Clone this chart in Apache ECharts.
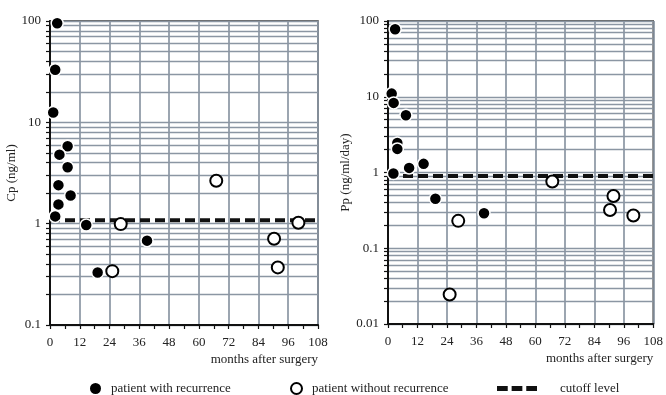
<!DOCTYPE html>
<html>
<head>
<meta charset="utf-8">
<script src="https://cdn.jsdelivr.net/npm/echarts@6/dist/echarts.min.js"></script>
<style>
  html, body { margin: 0; padding: 0; background: #fff; }
  #chart { width: 666px; height: 395px; }
</style>
</head>
<body>
<div id="chart"></div>
<script>
// months after surgery, value
const cpRecurrence = [[2.9, 95], [2.1, 33], [1.3, 12.5], [7.1, 5.8], [3.8, 4.8], [7.1, 3.6], [3.4, 2.4],
  [8.3, 1.9], [3.4, 1.55], [2.1, 1.18], [14.6, 0.97], [19.2, 0.33], [39.1, 0.68]];
const cpNoRecurrence = [[67, 2.65], [25.1, 0.34], [28.5, 0.99], [90.3, 0.71], [91.8, 0.37], [100.1, 1.02]];
const cpCutoff = 1.08;

const ppRecurrence = [[2.9, 78], [1.5, 11], [2.3, 8.3], [7.3, 5.7], [3.8, 2.45], [3.8, 2.05], [2.2, 0.97],
  [8.6, 1.15], [14.5, 1.3], [19.3, 0.45], [39.1, 0.29]];
const ppNoRecurrence = [[66.9, 0.76], [91.8, 0.49], [90.4, 0.32], [99.9, 0.27], [28.6, 0.23], [25.1, 0.0245]];
const ppCutoff = 0.9;

const monthTicks = [0, 108, 12];
const cpTicks = [0.1, 0.2, 0.3, 0.4, 0.5, 0.6, 0.7, 0.8, 0.9, 1, 2, 3, 4, 5, 6, 7, 8, 9,
  10, 20, 30, 40, 50, 60, 70, 80, 90, 100];
const cpLabels = [0.1, 1, 10, 100];
const ppTicks = [0.01, 0.02, 0.03, 0.04, 0.05, 0.06, 0.07, 0.08, 0.09, 0.1, 0.2, 0.3, 0.4, 0.5, 0.6, 0.7, 0.8, 0.9,
  1, 2, 3, 4, 5, 6, 7, 8, 9, 10, 20, 30, 40, 50, 60, 70, 80, 90, 100];
const ppLabels = [0.01, 0.1, 1, 10, 100];

const FONT = 'Liberation Serif';
const GRIDCOLOR = '#8b96a3';

const myChart = echarts.init(document.getElementById('chart'));

function xAxisFor(gridIndex) {
  return {
    type: 'value', gridIndex,
    min: monthTicks[0], max: monthTicks[1], interval: monthTicks[2],
    name: 'months after surgery',
    nameLocation: 'end', nameGap: 0,
    nameTextStyle: { fontFamily: FONT, fontSize: 13, color: '#222', align: 'right', verticalAlign: 'top', padding: [28, 0, 0, 0] },
    axisLine: { show: true, lineStyle: { color: '#111', width: 2 } },
    axisTick: { show: true, length: 4, lineStyle: { color: '#111', width: 1.2 } },
    minorTick: { show: true, splitNumber: 2, length: 4, lineStyle: { color: '#111', width: 1.2 } },
    axisLabel: { fontFamily: FONT, fontSize: 13, color: '#222', margin: 11 },
    splitLine: { show: true, lineStyle: { color: GRIDCOLOR, width: 1.7 } }
  };
}

function yAxisFor(gridIndex, name, min, ticks, labels, gap) {
  return {
    type: 'log', logBase: 10, gridIndex,
    min, max: 100,
    name, nameLocation: 'middle', nameGap: gap,
    nameTextStyle: { fontFamily: FONT, fontSize: 13, color: '#222' },
    axisLine: { show: true, lineStyle: { color: '#111', width: 2 } },
    axisTick: { show: true, length: 4, customValues: ticks, lineStyle: { color: '#111', width: 1.2 } },
    axisLabel: { fontFamily: FONT, fontSize: 13, color: '#222', margin: 9, customValues: labels },
    splitLine: { show: true, lineStyle: { color: GRIDCOLOR, width: 1.4 } }
  };
}

function cutoffSeries(idx, value) {
  return {
    name: 'cutoff level', type: 'line',
    xAxisIndex: idx, yAxisIndex: idx,
    data: [[monthTicks[0], value], [monthTicks[1], value]],
    symbol: 'none', silent: true, z: 3,
    itemStyle: { color: '#111' },
    lineStyle: { color: '#111', width: 4, type: [10, 5] }
  };
}

const filledStyle = { color: '#000', borderColor: '#fff', borderWidth: 1.5, opacity: 1 };
const openStyle = { color: '#fff', borderColor: '#000', borderWidth: 2, opacity: 1 };
const legendText = { fontFamily: FONT, fontSize: 13, color: '#222', padding: [0, 0, 0, 5] };

const option = {
  animation: false,
  grid: [
    { left: 50, right: 348, top: 21, bottom: 70, show: true, borderColor: '#333', borderWidth: 1.5 },
    { left: 388, right: 10, top: 21, bottom: 71, show: true, borderColor: '#333', borderWidth: 1.5 }
  ],
  xAxis: [xAxisFor(0), xAxisFor(1)],
  yAxis: [
    yAxisFor(0, 'Cp (ng/ml)', 0.1, cpTicks, cpLabels, 25),
    yAxisFor(1, 'Pp (ng/ml/day)', 0.01, ppTicks, ppLabels, 31)
  ],
  legend: [
    { data: [{ name: 'patient with recurrence', itemStyle: { borderWidth: 0 } }],
      left: 90, top: 382, padding: 0, itemWidth: 11, itemHeight: 11, textStyle: legendText },
    { data: ['patient without recurrence'],
      left: 290, top: 382, padding: 0, itemWidth: 11, itemHeight: 11, textStyle: legendText },
    { data: [{ name: 'cutoff level', icon: 'path://M0,0h11v5h-11zM15,0h11v5h-11zM30,0h11v5h-11z' }],
      left: 497, top: 382, padding: 0, itemWidth: 40, itemHeight: 5,
      textStyle: Object.assign({}, legendText, { padding: [0, 0, 0, 18] }) }
  ],
  series: [
    cutoffSeries(0, cpCutoff),
    { name: 'patient with recurrence', type: 'scatter', xAxisIndex: 0, yAxisIndex: 0,
      data: cpRecurrence, symbolSize: 12, itemStyle: filledStyle, z: 4 },
    { name: 'patient without recurrence', type: 'scatter', xAxisIndex: 0, yAxisIndex: 0,
      data: cpNoRecurrence, symbolSize: 12, itemStyle: openStyle, z: 4 },
    cutoffSeries(1, ppCutoff),
    { name: 'patient with recurrence', type: 'scatter', xAxisIndex: 1, yAxisIndex: 1,
      data: ppRecurrence, symbolSize: 12, itemStyle: filledStyle, z: 4 },
    { name: 'patient without recurrence', type: 'scatter', xAxisIndex: 1, yAxisIndex: 1,
      data: ppNoRecurrence, symbolSize: 12, itemStyle: openStyle, z: 4 }
  ]
};

myChart.setOption(option);
window.addEventListener('resize', () => myChart.resize());
</script>
</body>
</html>
